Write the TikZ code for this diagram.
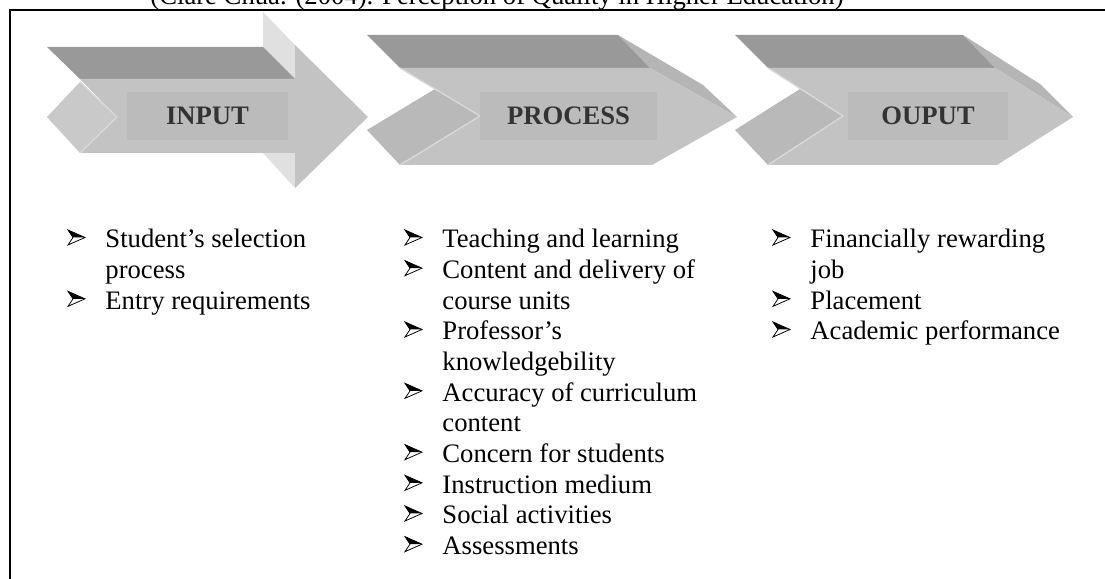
\documentclass[tikz,border=0pt]{standalone}
\usepackage{fontspec}
\setmainfont{Liberation Serif}

\definecolor{bandgray}{HTML}{999999}
\definecolor{facegray}{HTML}{C3C3C3}
\definecolor{sidegray}{HTML}{B5B5B5}
\definecolor{tailgray}{HTML}{B9B9B9}
\definecolor{palegray}{HTML}{E0E0E0}
\definecolor{boxgray}{HTML}{BBBBBB}
\definecolor{edgegray}{HTML}{D9D9D9}
\definecolor{labelgray}{HTML}{333333}

\begin{document}
\begin{tikzpicture}[x=0.45pt, y=-0.45pt,
    band/.style={fill=bandgray},
    face/.style={fill=facegray},
    side/.style={fill=sidegray},
    tail/.style={fill=tailgray},
    notchline/.style={draw=edgegray, line width=0.6pt},
    labelbox/.style={fill=boxgray, inner sep=0pt, minimum height=21.6pt,
        font=\fontsize{12}{14}\selectfont\bfseries, text=labelgray},
    itemlist/.style={anchor=north west, inner sep=0pt, align=left,
        font=\fontsize{12}{13.8}\selectfont},
    % 3d arrowhead bullet, origin on the text baseline
    pointer/.pic={
        \filldraw[fill=white, line width=0.35pt, line join=miter]
            (0, -17) -- (17, -9.5) -- (0, -2) -- (5, -9.5) -- cycle;
        \fill (0, -17) -- (17, -9.5) -- (5, -9.5) -- cycle;
    }]
    \useasboundingbox (0, 0) rectangle (1105, 579);
    %\draw[lightgray, step=50] (0, 0) grid (1105, 579);

    % frame and source line
    \draw[line width=0.8pt] (10, 579) -- (10, 10) -- (1105, 10);
    \node[anchor=base, inner sep=0pt, font=\fontsize{12}{14}\selectfont] (source) at (497, 5)
        {(Clare Chua. (2004). Perception of Quality in Higher Education)};

    % input arrow
    \fill[palegray] (263, 12) -- (295, 45) -- (295, 79) -- (263, 47) -- cycle;
    \fill[palegray] (263, 153) -- (295, 153) -- (295, 188) -- cycle;
    \fill[band] (47, 47) -- (263, 47) -- (295, 79) -- (80, 79) -- cycle;
    \fill[face] (80, 79) -- (295, 79) -- (295, 45) -- (368, 117) -- (295, 188)
        -- (295, 153) -- (80, 153) -- (117, 117) -- cycle;
    \fill[fill=facegray!90!white] (47, 117) -- (80, 82) -- (117, 117) -- (80, 153) -- cycle;
    \draw[notchline] (80, 82) -- (117, 117) -- (80, 153);
    \node[labelbox, minimum width=72.45pt] (input) at (207.5, 116) {INPUT};

    % process arrow
    \fill[side] (618, 35) -- (703, 85) -- (737, 117) -- (650, 68) -- cycle;
    \fill[band] (367, 35) -- (618, 35) -- (650, 68) -- (400, 68) -- cycle;
    \fill[face] (400, 68) -- (650, 68) -- (737, 117) -- (652, 165) -- (400, 165)
        -- (480, 116) -- cycle;
    \fill[tail] (367, 130) -- (435, 89) -- (480, 116) -- (400, 165) -- cycle;
    \draw[notchline] (400, 68) -- (480, 116) -- (400, 165);
    \node[labelbox, minimum width=79.65pt] (process) at (568.5, 116) {PROCESS};

    % output arrow
    \fill[side] (963, 35) -- (1040, 84) -- (1073, 117) -- (995, 68) -- cycle;
    \fill[band] (735, 35) -- (963, 35) -- (995, 68) -- (768, 68) -- cycle;
    \fill[face] (768, 68) -- (995, 68) -- (1073, 117) -- (997, 165) -- (768, 165)
        -- (843, 116) -- cycle;
    \fill[tail] (735, 130) -- (800, 89) -- (843, 116) -- (768, 165) -- cycle;
    \draw[notchline] (768, 68) -- (843, 116) -- (768, 165);
    \node[labelbox, minimum width=72pt] (output) at (928, 116) {OUPUT};

    % lists under each stage
    \node[itemlist] (inputlist) at (105, 229) {%
        Student’s selection\\ process\\ Entry requirements};
    \node[itemlist] (processlist) at (442, 229) {%
        Teaching and learning\\
        Content and delivery of\\ course units\\
        Professor’s\\ knowledgebility\\
        Accuracy of curriculum\\ content\\
        Concern for students\\
        Instruction medium\\
        Social activities\\
        Assessments};
    \node[itemlist] (outputlist) at (810, 229) {%
        Financially rewarding\\ job\\ Placement\\ Academic performance};

    % bullets, one per item line (line pitch 13.8pt)
    \foreach \row in {0, 2}
        \pic at (68, 247 + \row*30.667) {pointer};
    \foreach \row in {0, 1, 3, 5, 7, 8, 9, 10}
        \pic at (405, 247 + \row*30.667) {pointer};
    \foreach \row in {0, 2, 3}
        \pic at (773, 247 + \row*30.667) {pointer};
\end{tikzpicture}
\end{document}
